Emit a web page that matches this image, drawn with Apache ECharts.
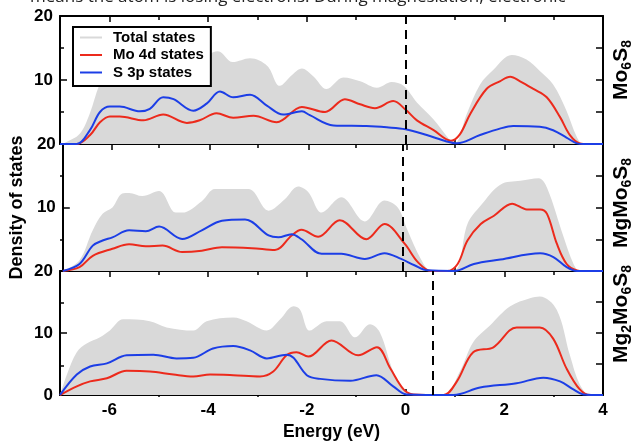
<!DOCTYPE html>
<html>
<head>
<meta charset="utf-8">
<script src="https://cdn.jsdelivr.net/npm/echarts@6/dist/echarts.min.js"></script>
<style>
html,body{margin:0;padding:0;background:#fff;}
#chart{width:634px;height:442px;}
</style>
</head>
<body>
<div id="chart"></div>
<script>
// ---------- data (energy in eV, density of states) ----------
const panelNames = ['Mo6S8', 'MgMo6S8', 'Mg2Mo6S8'];
const fermiLevels = [0, -0.08, 0.55];
const energyMajorTicks = [-6, -4, -2, 0, 2];
const energyMinorTicks = [-5, -3, -1, 1, 3];
const energyLabels = [-6, -4, -2, 0, 2, 4];
const dosMajorTicks = [10];
const dosMinorTicks = [5, 15];
const dosRightTicks = [5, 10, 15];

const mo6s8Total = [[-7,0],[-6.9,0.2],[-6.6,1.6],[-6.4,4.7],[-6.2,9.3],[-6.0,11.9],[-5.7,12.8],[-5.4,12.6],[-5.0,13.0],[-4.6,12.7],[-4.2,13.2],[-3.8,14.5],[-3.5,12.8],[-3.15,13.4],[-2.8,12.2],[-2.55,9.1],[-2.3,10.8],[-2.1,11.8],[-1.87,10.6],[-1.6,8.6],[-1.26,10.4],[-0.92,9.8],[-0.58,8.8],[-0.28,9.7],[-0.04,9.1],[0.23,6.5],[0.56,3.9],[0.9,0.6],[1.0,0.1],[1.24,4.7],[1.51,9.3],[1.78,11.6],[2.15,13.9],[2.45,13.2],[2.72,11.4],[2.99,9.3],[3.26,5.2],[3.47,1.1],[3.6,0],[4,0]];
const mo6s8Mo4d = [[-7,0],[-6.66,0],[-6.39,1.4],[-6.19,3.4],[-5.99,4.3],[-5.79,4.3],[-5.31,3.7],[-4.91,4.6],[-4.43,3.3],[-4.17,3.7],[-3.83,4.8],[-3.49,4.1],[-3.08,4.4],[-2.61,3.4],[-2.1,5.8],[-1.63,5.0],[-1.23,7.0],[-0.92,6.2],[-0.62,5.6],[-0.25,6.7],[0.01,5.3],[0.23,3.7],[0.56,2.2],[0.92,0.5],[1.1,1.5],[1.31,4.7],[1.64,8.6],[1.91,9.8],[2.12,10.5],[2.32,9.8],[2.59,8.6],[2.86,7.3],[3.13,4.2],[3.33,1.4],[3.53,0.1],[3.7,0],[4,0]];
const mo6s8S3p = [[-7,0],[-6.66,0],[-6.39,2.2],[-6.19,5.0],[-5.99,5.85],[-5.79,5.85],[-5.38,5.1],[-5.18,5.5],[-4.91,7.3],[-4.7,7.0],[-4.3,5.2],[-4.03,6.3],[-3.76,8.2],[-3.49,7.3],[-3.15,7.7],[-2.81,6.0],[-2.48,4.6],[-2.1,5.1],[-1.94,4.5],[-1.46,2.9],[-0.79,2.8],[-0.38,2.6],[0,2.3],[0.43,1.4],[0.83,0.4],[1.04,0.1],[1.51,1.4],[1.91,2.4],[2.18,2.8],[2.72,2.7],[2.99,2.15],[3.26,1.0],[3.47,0.1],[3.6,0],[4,0]];

const mgMo6s8Total = [[-7,0],[-6.66,1.7],[-6.39,6.4],[-6.19,9.0],[-5.99,10.0],[-5.79,12.2],[-5.65,12.3],[-5.38,11.8],[-5.04,12.6],[-4.7,9.2],[-4.57,9.2],[-4.17,11.0],[-3.9,12.9],[-3.22,12.9],[-2.81,9.5],[-2.48,11.3],[-2.21,13.3],[-2.0,12.4],[-1.73,9.2],[-1.33,11.6],[-0.85,7.8],[-0.45,11.1],[-0.18,10.0],[0.02,6.4],[0.29,1.9],[0.5,0.1],[0.97,0.1],[1.24,7.4],[1.51,10.3],[1.91,13.6],[2.32,14.2],[2.69,14.6],[2.86,13.1],[3.2,5.3],[3.4,1.1],[3.53,0],[4,0]];
const mgMo6s8Mo4d = [[-7,0],[-6.66,0.6],[-6.39,2.4],[-5.99,3.5],[-5.65,4.2],[-5.31,3.9],[-4.97,4.0],[-4.57,3.0],[-4.17,3.2],[-3.76,3.75],[-3.15,3.6],[-2.68,3.3],[-2.34,5.6],[-2.14,6.5],[-1.8,5.4],[-1.36,8.0],[-0.82,5.0],[-0.45,7.4],[-0.04,4.3],[0.23,1.4],[0.5,0],[0.83,0],[1.04,1.1],[1.24,4.8],[1.51,7.4],[1.78,8.7],[2.15,10.6],[2.45,9.7],[2.72,9.7],[2.86,9.0],[3.06,4.3],[3.26,1.1],[3.47,0.1],[3.6,0],[4,0]];
const mgMo6s8S3p = [[-7,0],[-6.66,1.1],[-6.39,4.0],[-6.19,4.8],[-5.99,5.3],[-5.65,6.4],[-5.31,6.25],[-5.04,7.0],[-4.57,5.05],[-4.17,6.4],[-3.76,7.9],[-3.29,8.1],[-2.81,5.6],[-2.61,5.3],[-2.34,5.8],[-2.14,5.0],[-1.73,2.7],[-1.33,2.7],[-0.85,1.9],[-0.45,2.8],[-0.11,1.9],[0.16,0.9],[0.43,0.1],[0.97,0],[1.37,1.1],[1.91,1.8],[2.72,2.8],[2.99,2.2],[3.26,0.6],[3.47,0],[4,0]];

const mg2Mo6s8Total = [[-7,0],[-6.85,3.5],[-6.66,6.9],[-6.46,8.3],[-6.19,9.3],[-5.99,10.4],[-5.72,12.2],[-5.18,11.9],[-4.84,10.9],[-4.3,10.4],[-4.03,11.9],[-3.49,12.5],[-3.22,11.9],[-2.81,10.4],[-2.54,12.2],[-2.27,14.3],[-2.14,13.8],[-1.94,10.4],[-1.6,11.9],[-1.33,11.9],[-1.02,9.3],[-0.72,11.4],[-0.52,10.1],[-0.25,3.8],[-0.04,0.9],[0.16,0],[0.77,0],[1.1,3.8],[1.37,8.5],[1.71,11.2],[2.12,14.3],[2.52,15.6],[2.72,15.9],[3.06,13.8],[3.33,6.4],[3.53,1.7],[3.74,0],[4,0]];
const mg2Mo6s8Mo4d = [[-7,0],[-6.66,1.4],[-6.39,2.2],[-6.05,2.7],[-5.65,3.9],[-5.18,3.8],[-4.7,3.3],[-4.3,3.0],[-3.96,3.3],[-3.49,3.2],[-2.95,3.0],[-2.68,3.8],[-2.41,6.4],[-2.21,6.9],[-1.97,6.2],[-1.5,8.8],[-0.96,6.4],[-0.58,7.7],[-0.31,4.3],[-0.04,0.9],[0.16,0.1],[0.77,0],[1.04,2.2],[1.37,6.9],[1.78,7.7],[2.25,10.9],[2.72,10.9],[2.99,9.1],[3.26,4.3],[3.53,0.9],[3.74,0],[4,0]];
const mg2Mo6s8S3p = [[-7,0],[-6.66,3.3],[-6.39,4.6],[-6.05,5.1],[-5.65,6.4],[-5.11,6.5],[-4.64,5.9],[-4.3,6.0],[-3.9,7.5],[-3.49,7.9],[-3.15,7.2],[-2.81,5.9],[-2.41,6.5],[-2.27,6.0],[-2.0,3.2],[-1.73,2.6],[-1.12,2.3],[-0.59,3.2],[-0.25,1.4],[0.02,0.1],[0.97,0],[1.51,1.2],[2.25,1.9],[2.79,2.8],[3.13,2.2],[3.4,0.9],[3.6,0.1],[4,0]];

const totalSets = [mo6s8Total, mgMo6s8Total, mg2Mo6s8Total];
const mo4dSets = [mo6s8Mo4d, mgMo6s8Mo4d, mg2Mo6s8Mo4d];
const s3pSets = [mo6s8S3p, mgMo6s8S3p, mg2Mo6s8S3p];

// ---------- layout / style ----------
const FONT = '"Liberation Sans", Arial, Helvetica, sans-serif';
const panelTops = [16, 144, 271];
const panelHeights = [128, 127, 126];
const GRID_LEFT = 60, GRID_RIGHT = 31;
const GRAY = '#d9d9d9', RED = '#ec2a1c', BLUE = '#1c3ee6';

const grids = [], xAxes = [], yAxes = [], series = [];
const axisLine = {show: true, onZero: false, lineStyle: {color: '#000', width: 2}};
const hiddenLine = {show: false, onZero: false};
const tickStyle = {color: '#000', width: 1.5};

for (let i = 0; i < 3; i++) {
  const g = {left: GRID_LEFT, right: GRID_RIGHT, top: panelTops[i], height: panelHeights[i]};
  grids.push(Object.assign({}, g));   // main grid 2i
  grids.push(Object.assign({}, g));   // minor-tick grid 2i+1
  const gMain = 2 * i, gMinor = 2 * i + 1;
  const last = i === 2;
  xAxes.push({
    gridIndex: gMain, type: 'value', min: -7, max: 4, position: 'bottom',
    axisLine: axisLine,
    axisTick: {show: true, inside: true, length: 6, customValues: energyMajorTicks, lineStyle: tickStyle},
    axisLabel: {show: last, customValues: energyLabels, color: '#000', fontFamily: FONT, fontWeight: 'bold', fontSize: 17, margin: 7},
    splitLine: {show: false},
    name: last ? 'Energy (eV)' : '', nameLocation: 'middle', nameGap: 28,
    nameTextStyle: {color: '#000', fontFamily: FONT, fontWeight: 'bold', fontSize: 17.5}
  });
  xAxes.push({
    gridIndex: gMain, type: 'value', min: -7, max: 4, position: 'top',
    axisLine: axisLine,
    axisTick: {show: true, inside: true, length: 6, customValues: energyMajorTicks, lineStyle: tickStyle},
    axisLabel: {show: false}, splitLine: {show: false}
  });
  xAxes.push({
    gridIndex: gMinor, type: 'value', min: -7, max: 4, position: 'bottom',
    axisLine: hiddenLine,
    axisTick: {show: true, inside: true, length: 4, customValues: energyMinorTicks, lineStyle: tickStyle},
    axisLabel: {show: false}, splitLine: {show: false}
  });
  xAxes.push({
    gridIndex: gMinor, type: 'value', min: -7, max: 4, position: 'top',
    axisLine: hiddenLine,
    axisTick: {show: true, inside: true, length: 4, customValues: energyMinorTicks, lineStyle: tickStyle},
    axisLabel: {show: false}, splitLine: {show: false}
  });
  yAxes.push({
    gridIndex: gMain, type: 'value', min: 0, max: 20, position: 'left',
    axisLine: axisLine,
    axisTick: {show: true, inside: true, length: 7, customValues: dosMajorTicks, lineStyle: tickStyle},
    axisLabel: {show: true, customValues: last ? [0, 10, 20] : [10, 20], color: '#000', fontFamily: FONT, fontWeight: 'bold', fontSize: 17, margin: 7},
    splitLine: {show: false},
    name: i === 1 ? 'Density of states' : '', nameLocation: 'middle', nameGap: 35, nameRotate: 90,
    nameTextStyle: {color: '#000', fontFamily: FONT, fontWeight: 'bold', fontSize: 18}
  });
  yAxes.push({
    gridIndex: gMain, type: 'value', min: 0, max: 20, position: 'right',
    axisLine: axisLine,
    axisTick: {show: true, inside: true, length: 7, customValues: dosRightTicks, lineStyle: tickStyle},
    axisLabel: {show: false}, splitLine: {show: false}
  });
  yAxes.push({
    gridIndex: gMinor, type: 'value', min: 0, max: 20, position: 'left',
    axisLine: hiddenLine,
    axisTick: {show: true, inside: true, length: 4, customValues: dosMinorTicks, lineStyle: tickStyle},
    axisLabel: {show: false}, splitLine: {show: false}
  });

  const common = {type: 'line', xAxisIndex: 4 * i, yAxisIndex: 3 * i, smooth: 0.35, showSymbol: false, symbol: 'none', silent: true};
  series.push(Object.assign({}, common, {
    name: 'Total states', data: totalSets[i], z: 1,
    itemStyle: {color: GRAY}, lineStyle: {width: 0, color: GRAY},
    areaStyle: {color: GRAY, opacity: 1}
  }));
  series.push(Object.assign({}, common, {
    name: 'Mo 4d states', data: mo4dSets[i], z: 3,
    itemStyle: {color: RED}, lineStyle: {width: 2, color: RED}
  }));
  series.push(Object.assign({}, common, {
    name: 'S 3p states', data: s3pSets[i], z: 4,
    itemStyle: {color: BLUE}, lineStyle: {width: 2, color: BLUE},
    markLine: {
      silent: true, symbol: ['none', 'none'], label: {show: false},
      lineStyle: {color: '#000', width: 2, type: [9, 6]},
      data: [{xAxis: fermiLevels[i]}]
    }
  }));
}

function compoundRich(name) {
  const parts = name.match(/[A-Z][a-z]?|\d+/g);
  return parts.map(p => /\d/.test(p) ? '{s|' + p + '}' : '{a|' + p + '}').join('');
}
const labelCenters = [70, 203, 314];
const rich = {
  a: {fontFamily: FONT, fontWeight: 'bold', fontSize: 21, fill: '#000', lineHeight: 24},
  s: {fontFamily: FONT, fontWeight: 'bold', fontSize: 14, fill: '#000', lineHeight: 24, padding: [12, 0, 0, 0]}
};
const graphics = panelNames.map((n, i) => ({
  type: 'text', x: 621, y: labelCenters[i], rotation: Math.PI / 2,
  style: {text: compoundRich(n), rich: rich, align: 'center', verticalAlign: 'middle'}
}));
graphics.push({
  type: 'text', x: 30, y: -11,
  style: {text: 'means the atom is losing electrons. During magnesiation, electronic', fontFamily: '"Open Sans", "Noto Sans", sans-serif', fontSize: 17, fill: '#222', align: 'left', verticalAlign: 'top'}
});

const chart = echarts.init(document.getElementById('chart'), null, {renderer: 'canvas'});
chart.setOption({
  animation: false,
  backgroundColor: '#fff',
  grid: grids,
  xAxis: xAxes,
  yAxis: yAxes,
  legend: {
    left: 73, top: 27, orient: 'vertical',
    backgroundColor: '#fff', borderColor: '#000', borderWidth: 2, borderRadius: 0,
    padding: [3, 7, 6, 7], itemGap: 2.5, itemWidth: 22, itemHeight: 2,
    textStyle: {color: '#000', fontFamily: FONT, fontWeight: 'bold', fontSize: 15, padding: [0, 0, 0, 6], lineHeight: 15},
    data: [
      {name: 'Total states', icon: 'rect', itemStyle: {color: GRAY}},
      {name: 'Mo 4d states', icon: 'rect', itemStyle: {color: RED}},
      {name: 'S 3p states', icon: 'rect', itemStyle: {color: BLUE}}
    ]
  },
  graphic: graphics,
  series: series
});
</script>
</body>
</html>
